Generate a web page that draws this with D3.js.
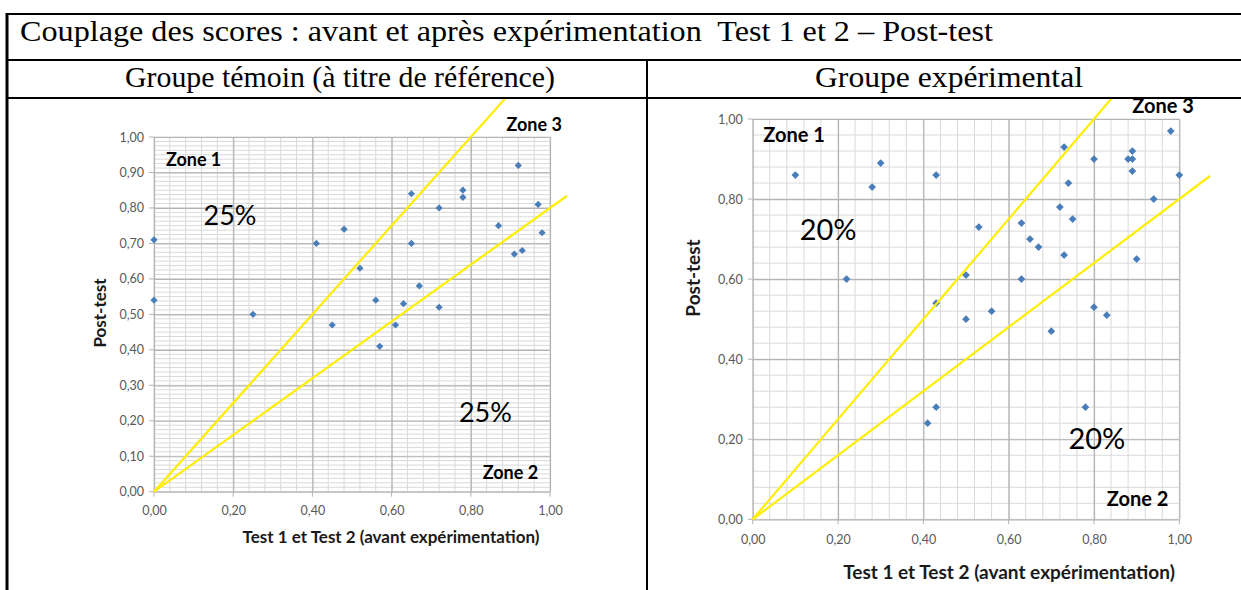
<!DOCTYPE html>
<html>
<head>
<meta charset="utf-8">
<script src="https://cdn.jsdelivr.net/npm/d3@7"></script>
<style>
  body { margin: 0; background: #fff; }
  svg { display: block; }
</style>
</head>
<body>
<svg id="page" width="1241" height="590"></svg>
<script>
// texts
const titleText = 'Couplage des scores : avant et après expérimentation  Test 1 et 2 – Post-test'
const headerTexts = ['Groupe témoin (à titre de référence)', 'Groupe expérimental']
const xTitle = 'Test 1 et Test 2 (avant expérimentation)'
const yTitle = 'Post-test'

// scores (x = Test 1 et 2, y = post-test)
const temoinPoints = [
  [0.00, 0.71], [0.00, 0.54], [0.25, 0.50], [0.41, 0.70], [0.45, 0.47],
  [0.48, 0.74], [0.52, 0.63], [0.56, 0.54], [0.57, 0.41], [0.61, 0.47],
  [0.63, 0.53], [0.65, 0.84], [0.65, 0.70], [0.67, 0.58], [0.72, 0.80],
  [0.72, 0.52], [0.78, 0.85], [0.78, 0.83], [0.87, 0.75], [0.91, 0.67],
  [0.92, 0.92], [0.93, 0.68], [0.97, 0.81], [0.98, 0.73]
]
const experimentalPoints = [
  [0.10, 0.86], [0.22, 0.60], [0.28, 0.83], [0.30, 0.89], [0.41, 0.24],
  [0.43, 0.86], [0.43, 0.54], [0.43, 0.28], [0.50, 0.61], [0.50, 0.50],
  [0.53, 0.73], [0.56, 0.52], [0.63, 0.74], [0.63, 0.60], [0.65, 0.70],
  [0.67, 0.68], [0.70, 0.47], [0.72, 0.78], [0.73, 0.93], [0.73, 0.66],
  [0.74, 0.84], [0.75, 0.75], [0.78, 0.28], [0.80, 0.90], [0.80, 0.53],
  [0.83, 0.51], [0.88, 0.90], [0.89, 0.92], [0.89, 0.90], [0.89, 0.87],
  [0.90, 0.65], [0.94, 0.80], [0.98, 0.97], [1.00, 0.86]
]

// zone boundaries y = slope * x, drawn up to x end
const zoneSlopes = [1.25, 0.8]
const temoinLineEnds = [0.92, 1.043]
const experimentalLineEnds = [0.88, 1.072]

// zone labels [text, x, y, kind] in data units
const temoinLabels = [
  ['Zone 1', 0.03, 0.93, 'zone'], ['Zone 3', 0.89, 1.03, 'zone'], ['Zone 2', 0.83, 0.05, 'zone'],
  ['25%', 0.125, 0.77, 'pct'], ['25%', 0.77, 0.215, 'pct']
]
const experimentalLabels = [
  ['Zone 1', 0.025, 0.955, 'zone'], ['Zone 3', 0.89, 1.027, 'zone'], ['Zone 2', 0.83, 0.045, 'zone'],
  ['20%', 0.11, 0.715, 'pct'], ['20%', 0.74, 0.195, 'pct']
]

const fmt = d3.formatLocale({ decimal: ',', thousands: ' ', grouping: [3], currency: ['', '€'] }).format('.2f')

const svg = d3.select('#page')

// ---- table frame
const table = svg.append('g').attr('stroke', '#000').attr('fill', 'none')
table.append('line').attr('x1', 6).attr('x2', 1241).attr('y1', 14).attr('y2', 14).attr('stroke-width', 2)
table.append('line').attr('x1', 6).attr('x2', 1241).attr('y1', 60).attr('y2', 60).attr('stroke-width', 2)
table.append('line').attr('x1', 6).attr('x2', 1241).attr('y1', 98).attr('y2', 98).attr('stroke-width', 2)
table.append('line').attr('x1', 7).attr('x2', 7).attr('y1', 13).attr('y2', 590).attr('stroke-width', 3)
table.append('line').attr('x1', 647).attr('x2', 647).attr('y1', 60).attr('y2', 590).attr('stroke-width', 2)

svg.append('text')
  .attr('x', 20).attr('y', 41)
  .attr('font-family', 'Liberation Serif, serif').attr('font-size', 29)
  .attr('textLength', 973).attr('lengthAdjust', 'spacingAndGlyphs')
  .style('white-space', 'pre')
  .text(titleText)

svg.selectAll('.header')
  .data(headerTexts)
  .enter()
  .append('text')
    .attr('class', 'header')
    .attr('x', (d, i) => i === 0 ? 340 : 949)
    .attr('y', 87)
    .attr('text-anchor', 'middle')
    .attr('font-family', 'Liberation Serif, serif').attr('font-size', 29)
    .attr('textLength', (d, i) => i === 0 ? 430 : 268)
    .attr('lengthAdjust', 'spacingAndGlyphs')
    .text(d => d)

// ---- scatter chart
function scatter (opts) {
  const x = d3.scaleLinear().domain([0, 1]).range([opts.left, opts.right])
  const y = d3.scaleLinear().domain([0, 1]).range([opts.bottom, opts.top])
  const g = svg.append('g')

  const clipId = 'clip-' + opts.id
  g.append('clipPath').attr('id', clipId)
    .append('rect')
      .attr('x', opts.cell[0]).attr('y', opts.cell[1])
      .attr('width', opts.cell[2] - opts.cell[0]).attr('height', opts.cell[3] - opts.cell[1])

  // minor grid
  const xMinor = d3.range(0, 1.0001, opts.xMinor)
  const yMinor = d3.range(0, 1.0001, opts.yMinor)
  g.append('g').selectAll('line').data(xMinor).enter().append('line')
    .attr('x1', d => x(d)).attr('x2', d => x(d))
    .attr('y1', y(0)).attr('y2', y(1))
    .attr('stroke', '#d9d9d9').attr('stroke-width', 1)
  g.append('g').selectAll('line').data(yMinor).enter().append('line')
    .attr('x1', x(0)).attr('x2', x(1))
    .attr('y1', d => y(d)).attr('y2', d => y(d))
    .attr('stroke', '#d9d9d9').attr('stroke-width', 1)

  // major grid + axes
  const xMajor = d3.range(0, 1.0001, 0.2)
  const yMajor = d3.range(0, 1.0001, opts.yMajor)
  const yAxis = d3.axisLeft(y).tickValues(yMajor).tickFormat(fmt)
    .tickSizeInner(-(opts.right - opts.left)).tickSizeOuter(0).tickPadding(10)
  const xAxis = d3.axisBottom(x).tickValues(xMajor).tickFormat(fmt)
    .tickSizeInner(-(opts.bottom - opts.top)).tickSizeOuter(0).tickPadding(opts.xPad)

  const ya = g.append('g').attr('transform', `translate(${opts.left},0)`).call(yAxis)
  const xa = g.append('g').attr('transform', `translate(0,${opts.bottom})`).call(xAxis)
  ;[ya, xa].forEach(a => {
    a.select('.domain').remove()
    a.selectAll('line').attr('stroke', '#b3b3b3').attr('stroke-width', 1.2)
    a.selectAll('text')
      .attr('font-family', 'Lato, sans-serif').attr('font-size', opts.tickFont)
      .attr('fill', '#595959')
  })
  // little outer tick marks
  g.append('g').selectAll('line').data(yMajor).enter().append('line')
    .attr('x1', x(0) - 5).attr('x2', x(0))
    .attr('y1', d => y(d)).attr('y2', d => y(d))
    .attr('stroke', '#b3b3b3')
  g.append('g').selectAll('line').data(xMajor).enter().append('line')
    .attr('x1', d => x(d)).attr('x2', d => x(d))
    .attr('y1', y(0)).attr('y2', y(0) + 5)
    .attr('stroke', '#b3b3b3')

  // axis titles
  g.append('text')
    .attr('x', opts.xTitlePos[0]).attr('y', opts.xTitlePos[1])
    .attr('text-anchor', 'middle')
    .attr('font-family', 'Lato, sans-serif').attr('font-weight', 'bold')
    .attr('font-size', opts.titleFont).attr('fill', '#1a1a1a')
    .text(xTitle)
  g.append('text')
    .attr('transform', `translate(${opts.yTitlePos[0]},${opts.yTitlePos[1]}) rotate(-90)`)
    .attr('text-anchor', 'middle')
    .attr('font-family', 'Lato, sans-serif').attr('font-weight', 'bold')
    .attr('font-size', opts.titleFont).attr('fill', '#1a1a1a')
    .text(yTitle)

  // points
  g.append('g').selectAll('path').data(opts.points).enter().append('path')
    .attr('d', d3.symbol(d3.symbolSquare, opts.markerSize))
    .attr('transform', d => `translate(${x(d[0])},${y(d[1])}) rotate(45)`)
    .attr('fill', '#4a7ebb')

  // zone boundary lines
  const line = d3.line().x(d => x(d[0])).y(d => y(d[1]))
  g.append('g').attr('clip-path', `url(#${clipId})`)
    .selectAll('path').data(zoneSlopes).enter().append('path')
      .attr('d', (s, i) => line([[0, 0], [opts.lineEnds[i], s * opts.lineEnds[i]]]))
      .attr('fill', 'none')
      .attr('stroke', '#ffee00')
      .attr('stroke-width', 2.2)

  // labels
  g.append('g').selectAll('text').data(opts.labels).enter().append('text')
    .attr('x', d => x(d[1])).attr('y', d => y(d[2]))
    .attr('dominant-baseline', 'middle')
    .attr('font-family', 'Lato, sans-serif')
    .attr('font-weight', d => d[3] === 'zone' ? 'bold' : 'normal')
    .attr('font-size', d => d[3] === 'zone' ? opts.zoneFont : opts.pctFont)
    .attr('fill', '#000')
    .text(d => d[0])
}

scatter({
  id: 'temoin',
  left: 154, right: 550, top: 137, bottom: 491.7,
  cell: [9, 99, 646, 590],
  xMinor: 0.04, yMinor: 0.0125, yMajor: 0.1,
  xPad: 14,
  tickFont: 12.5, titleFont: 17, zoneFont: 18, pctFont: 27,
  xTitlePos: [391, 543], yTitlePos: [106, 313],
  markerSize: 26,
  points: temoinPoints,
  lineEnds: temoinLineEnds,
  labels: temoinLabels
})

scatter({
  id: 'experimental',
  left: 752.7, right: 1179.3, top: 119, bottom: 519.3,
  cell: [648, 99, 1241, 590],
  xMinor: 0.04, yMinor: 0.04, yMajor: 0.2,
  xPad: 16,
  tickFont: 12.5, titleFont: 19, zoneFont: 20, pctFont: 29,
  xTitlePos: [1009, 579], yTitlePos: [700, 278],
  markerSize: 30,
  points: experimentalPoints,
  lineEnds: experimentalLineEnds,
  labels: experimentalLabels
})
</script>
</body>
</html>
